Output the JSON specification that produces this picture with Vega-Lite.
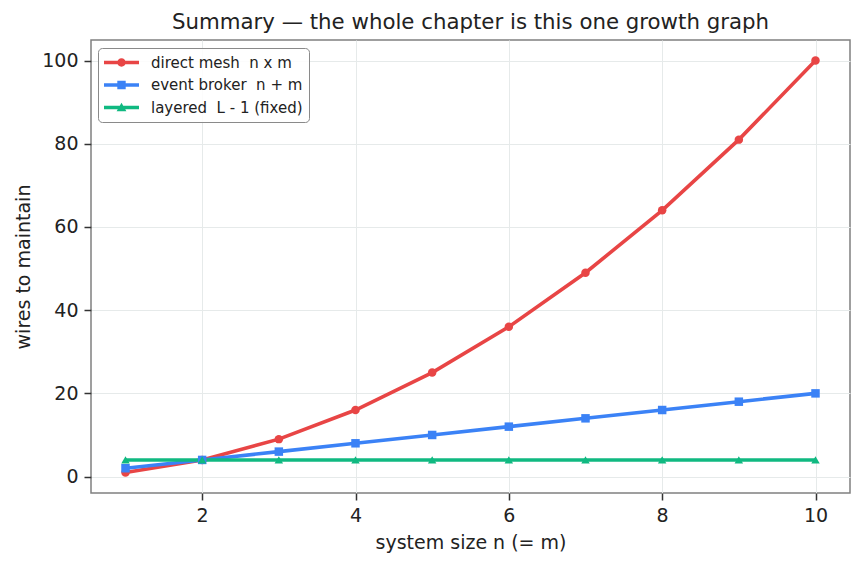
{
  "$schema": "https://vega.github.io/schema/vega-lite/v6.json",
  "width": 759,
  "height": 453,
  "autosize": {"type": "none"},
  "padding": {"left": 91, "top": 40, "right": 14, "bottom": 74},
  "background": "white",
  "title": {
    "text": "Summary — the whole chapter is this one growth graph",
    "fontSize": 21.3,
    "font": "DejaVu Sans",
    "fontWeight": "normal",
    "color": "#222222",
    "offset": 7
  },
  "config": {
    "font": "DejaVu Sans",
    "view": {"stroke": "#808080", "strokeWidth": 1.5},
    "axis": {
      "domain": false,
      "grid": true,
      "gridColor": "#e6eaea",
      "gridWidth": 1,
      "tickColor": "#333333",
      "tickSize": 7,
      "tickWidth": 1.5,
      "labelFontSize": 19,
      "labelColor": "#222222",
      "labelPadding": 6,
      "titleFontSize": 19,
      "titleFontWeight": "normal",
      "titleColor": "#222222",
      "titlePadding": 8
    }
  },
  "data": {
    "values": [
      {"n": 1, "series": "direct mesh\u00a0 n x m", "wires": 1},
      {"n": 2, "series": "direct mesh\u00a0 n x m", "wires": 4},
      {"n": 3, "series": "direct mesh\u00a0 n x m", "wires": 9},
      {"n": 4, "series": "direct mesh\u00a0 n x m", "wires": 16},
      {"n": 5, "series": "direct mesh\u00a0 n x m", "wires": 25},
      {"n": 6, "series": "direct mesh\u00a0 n x m", "wires": 36},
      {"n": 7, "series": "direct mesh\u00a0 n x m", "wires": 49},
      {"n": 8, "series": "direct mesh\u00a0 n x m", "wires": 64},
      {"n": 9, "series": "direct mesh\u00a0 n x m", "wires": 81},
      {"n": 10, "series": "direct mesh\u00a0 n x m", "wires": 100},
      {"n": 1, "series": "event broker\u00a0 n + m", "wires": 2},
      {"n": 2, "series": "event broker\u00a0 n + m", "wires": 4},
      {"n": 3, "series": "event broker\u00a0 n + m", "wires": 6},
      {"n": 4, "series": "event broker\u00a0 n + m", "wires": 8},
      {"n": 5, "series": "event broker\u00a0 n + m", "wires": 10},
      {"n": 6, "series": "event broker\u00a0 n + m", "wires": 12},
      {"n": 7, "series": "event broker\u00a0 n + m", "wires": 14},
      {"n": 8, "series": "event broker\u00a0 n + m", "wires": 16},
      {"n": 9, "series": "event broker\u00a0 n + m", "wires": 18},
      {"n": 10, "series": "event broker\u00a0 n + m", "wires": 20},
      {"n": 1, "series": "layered\u00a0 L - 1 (fixed)", "wires": 4},
      {"n": 2, "series": "layered\u00a0 L - 1 (fixed)", "wires": 4},
      {"n": 3, "series": "layered\u00a0 L - 1 (fixed)", "wires": 4},
      {"n": 4, "series": "layered\u00a0 L - 1 (fixed)", "wires": 4},
      {"n": 5, "series": "layered\u00a0 L - 1 (fixed)", "wires": 4},
      {"n": 6, "series": "layered\u00a0 L - 1 (fixed)", "wires": 4},
      {"n": 7, "series": "layered\u00a0 L - 1 (fixed)", "wires": 4},
      {"n": 8, "series": "layered\u00a0 L - 1 (fixed)", "wires": 4},
      {"n": 9, "series": "layered\u00a0 L - 1 (fixed)", "wires": 4},
      {"n": 10, "series": "layered\u00a0 L - 1 (fixed)", "wires": 4}
    ]
  },
  "encoding": {
    "x": {
      "field": "n",
      "type": "quantitative",
      "scale": {"domain": [0.55, 10.45], "nice": false, "zero": false},
      "axis": {"values": [2, 4, 6, 8, 10], "title": "system size n (= m)"}
    },
    "y": {
      "field": "wires",
      "type": "quantitative",
      "scale": {"domain": [-3.95, 104.95], "nice": false, "zero": false},
      "axis": {"values": [0, 20, 40, 60, 80, 100], "title": "wires to maintain"}
    }
  },
  "layer": [
    {
      "mark": {"type": "line", "strokeWidth": 3.6},
      "encoding": {
        "color": {
          "field": "series",
          "type": "nominal",
          "scale": {
            "domain": ["direct mesh\u00a0 n x m", "event broker\u00a0 n + m", "layered\u00a0 L - 1 (fixed)"],
            "range": ["#e84545", "#3b82f6", "#10b981"]
          },
          "legend": null
        }
      }
    },
    {
      "mark": {"type": "point", "filled": true, "opacity": 1, "size": 72},
      "encoding": {
        "color": {
          "field": "series",
          "type": "nominal",
          "scale": {
            "domain": ["direct mesh\u00a0 n x m", "event broker\u00a0 n + m", "layered\u00a0 L - 1 (fixed)"],
            "range": ["#e84545", "#3b82f6", "#10b981"]
          },
          "legend": null
        },
        "shape": {
          "field": "series",
          "type": "nominal",
          "scale": {
            "domain": ["direct mesh\u00a0 n x m", "event broker\u00a0 n + m", "layered\u00a0 L - 1 (fixed)"],
            "range": ["circle", "square", "triangle-up"]
          },
          "legend": null
        }
      }
    },
    {
      "transform": [{"filter": "datum.n < 0"}],
      "mark": {"type": "point", "filled": true, "opacity": 1},
      "encoding": {
        "color": {
          "field": "series",
          "type": "nominal",
          "scale": {
            "domain": ["direct mesh\u00a0 n x m", "event broker\u00a0 n + m", "layered\u00a0 L - 1 (fixed)"],
            "range": ["#e84545", "#3b82f6", "#10b981"]
          },
          "legend": {
            "title": null,
            "orient": "none",
            "legendX": 7,
            "legendY": 8,
            "symbolSize": 1225,
            "symbolStrokeWidth": 0,
            "labelFontSize": 15,
            "labelColor": "#222222",
            "labelOffset": 12,
            "labelLimit": 300,
            "padding": 6,
            "strokeColor": "#8a8a8a",
            "fillColor": "rgba(255,255,255,0.85)",
            "cornerRadius": 4,
            "clipHeight": 17,
            "rowPadding": 5.5
          }
        },
        "shape": {
          "field": "series",
          "type": "nominal",
          "scale": {
            "domain": ["direct mesh\u00a0 n x m", "event broker\u00a0 n + m", "layered\u00a0 L - 1 (fixed)"],
            "range": [
              "M-1,-0.1H1V0.1H-1Z M0.24,0A0.24,0.24 0 1 1 -0.24,0A0.24,0.24 0 1 1 0.24,0Z",
              "M-1,-0.1H1V0.1H-1Z M-0.24,-0.24H0.24V0.24H-0.24Z",
              "M-1,-0.1H1V0.1H-1Z M0,-0.27L0.28,0.22H-0.28Z"
            ]
          },
          "legend": {
            "title": null,
            "orient": "none",
            "legendX": 7,
            "legendY": 8,
            "symbolSize": 1225,
            "symbolStrokeWidth": 0,
            "labelFontSize": 15,
            "labelColor": "#222222",
            "labelOffset": 12,
            "labelLimit": 300,
            "padding": 6,
            "strokeColor": "#8a8a8a",
            "fillColor": "rgba(255,255,255,0.85)",
            "cornerRadius": 4,
            "clipHeight": 17,
            "rowPadding": 5.5
          }
        }
      }
    }
  ],
  "resolve": {
    "scale": {"color": "independent", "shape": "independent"},
    "legend": {"color": "independent", "shape": "independent"}
  }
}
